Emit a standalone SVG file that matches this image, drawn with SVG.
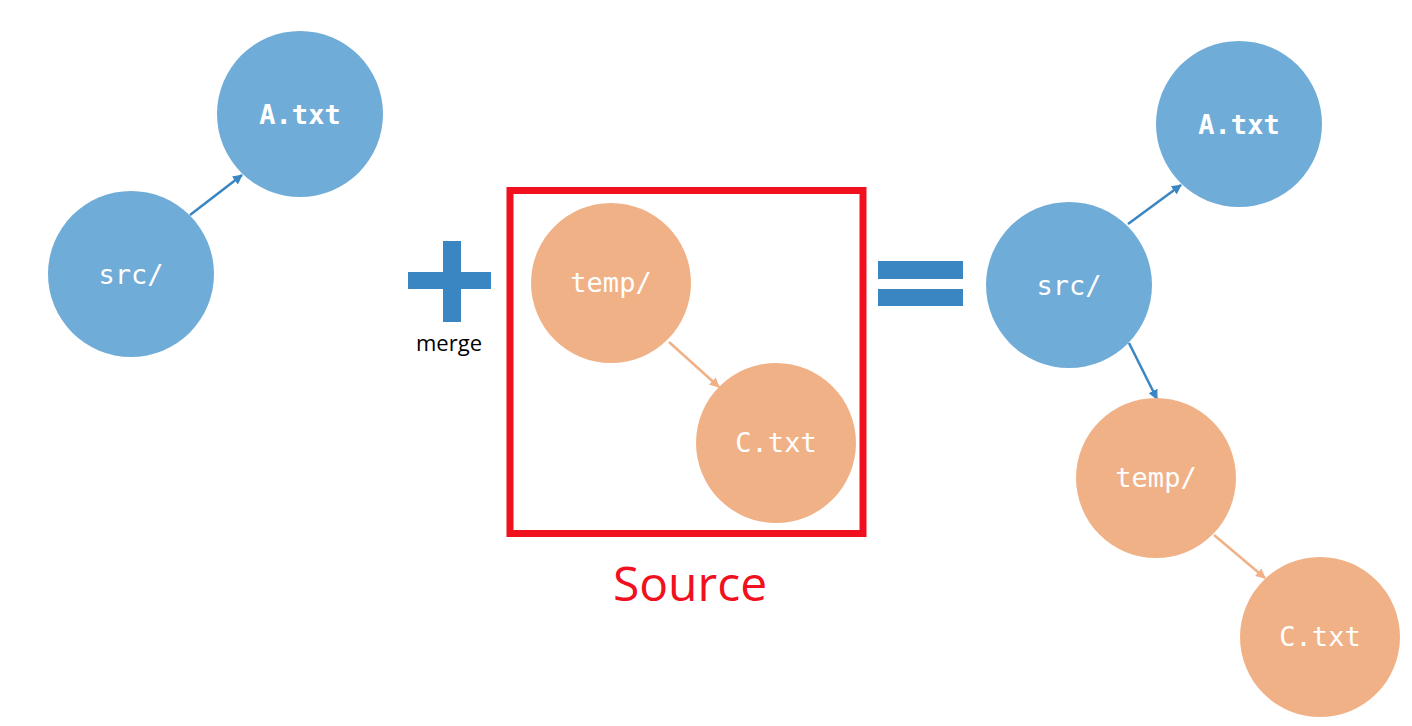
<svg xmlns="http://www.w3.org/2000/svg" width="1412" height="726" viewBox="0 0 1412 726">
<style>
.blue{fill:#70acd8}
.orange{fill:#f1b187}
.lbl{font-family:"DejaVu Sans Mono","Liberation Mono",monospace;font-size:27px;fill:#ffffff;text-anchor:middle}
.b{font-weight:bold}
.cb{stroke:#3a86c3;stroke-width:2.5;fill:none}
.co{stroke:#f1b187;stroke-width:2.5;fill:none}
.sym{fill:#3a86c3}
</style>
<defs>
<marker id="ab" viewBox="0 0 10 10" refX="9" refY="5" markerWidth="4" markerHeight="4" orient="auto" markerUnits="strokeWidth"><path d="M0,0 L10,5 L0,10 z" fill="#3a86c3"/></marker>
<marker id="ao" viewBox="0 0 10 10" refX="9" refY="5" markerWidth="4" markerHeight="4" orient="auto" markerUnits="strokeWidth"><path d="M0,0 L10,5 L0,10 z" fill="#f1b187"/></marker>
</defs>
<rect width="1412" height="726" fill="#ffffff"/>
<g id="connectors">
<line class="cb" x1="190" y1="215" x2="242" y2="175" marker-end="url(#ab)"/>
<line class="co" x1="669" y1="342" x2="719" y2="387" marker-end="url(#ao)"/>
<line class="cb" x1="1128" y1="224" x2="1181" y2="185" marker-end="url(#ab)"/>
<line class="cb" x1="1129" y1="343" x2="1157" y2="399" marker-end="url(#ab)"/>
<line class="co" x1="1214" y1="535" x2="1265" y2="578" marker-end="url(#ao)"/>
</g>
<g id="left-A">
<circle class="blue" cx="300" cy="114" r="83"/>
<text class="lbl b" x="300" y="124">A.txt</text>
</g>
<g id="left-src">
<circle class="blue" cx="131" cy="274" r="83"/>
<text class="lbl" x="131" y="284">src/</text>
</g>
<g id="plus">
<rect class="sym" x="408" y="272" width="83" height="17"/>
<rect class="sym" x="443" y="241" width="18" height="81"/>
<text x="449" y="351" font-family="'Open Sans','Noto Sans',sans-serif" font-size="22" fill="#000000" text-anchor="middle">merge</text>
</g>
<g id="source-box">
<rect x="510" y="190.5" width="353" height="343" fill="none" stroke="#f0101e" stroke-width="7"/>
<text x="690" y="601" font-family="'Open Sans','Noto Sans',sans-serif" font-size="48" fill="#f0101e" text-anchor="middle">Source</text>
</g>
<g id="box-temp">
<circle class="orange" cx="611" cy="283" r="80"/>
<text class="lbl" x="611" y="292">temp/</text>
</g>
<g id="box-C">
<circle class="orange" cx="776" cy="443" r="80"/>
<text class="lbl" x="776" y="452">C.txt</text>
</g>
<g id="equals">
<rect class="sym" x="878" y="261" width="85" height="18"/>
<rect class="sym" x="878" y="289" width="85" height="17"/>
</g>
<g id="right-A">
<circle class="blue" cx="1239" cy="124" r="83"/>
<text class="lbl b" x="1239" y="134">A.txt</text>
</g>
<g id="right-src">
<circle class="blue" cx="1069" cy="285" r="83"/>
<text class="lbl" x="1069" y="295">src/</text>
</g>
<g id="right-temp">
<circle class="orange" cx="1156" cy="478" r="80"/>
<text class="lbl" x="1156" y="487">temp/</text>
</g>
<g id="right-C">
<circle class="orange" cx="1320" cy="637" r="80"/>
<text class="lbl" x="1320" y="646">C.txt</text>
</g>
</svg>
